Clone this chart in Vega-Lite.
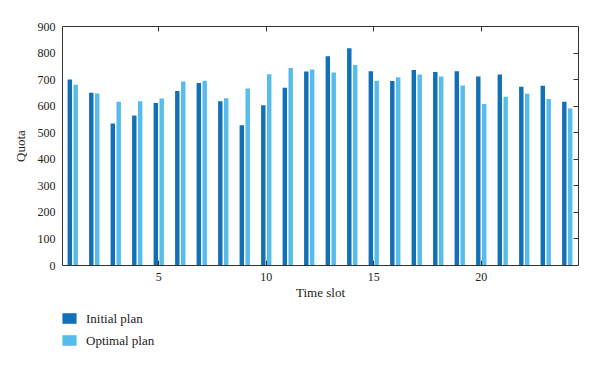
{
  "$schema": "https://vega.github.io/schema/vega-lite/v6.json",
  "width": 516,
  "height": 239,
  "autosize": {"type": "none"},
  "padding": {"left": 62, "top": 26, "right": 22, "bottom": 100},
  "background": "white",
  "config": {
    "font": "Liberation Serif",
    "view": {"stroke": "#333333", "strokeWidth": 1},
    "axis": {"labelFont": "Liberation Serif", "titleFont": "Liberation Serif", "labelColor": "#222222", "titleColor": "#222222", "titleFontWeight": "normal", "grid": false, "domain": false}
  },
  "data": {
    "values": [
      {"slot": 1, "plan": "Initial plan", "quota": 699}, {"slot": 1, "plan": "Optimal plan", "quota": 679},
      {"slot": 2, "plan": "Initial plan", "quota": 649}, {"slot": 2, "plan": "Optimal plan", "quota": 646},
      {"slot": 3, "plan": "Initial plan", "quota": 533}, {"slot": 3, "plan": "Optimal plan", "quota": 615},
      {"slot": 4, "plan": "Initial plan", "quota": 563}, {"slot": 4, "plan": "Optimal plan", "quota": 617},
      {"slot": 5, "plan": "Initial plan", "quota": 610}, {"slot": 5, "plan": "Optimal plan", "quota": 627},
      {"slot": 6, "plan": "Initial plan", "quota": 655}, {"slot": 6, "plan": "Optimal plan", "quota": 691},
      {"slot": 7, "plan": "Initial plan", "quota": 685}, {"slot": 7, "plan": "Optimal plan", "quota": 694},
      {"slot": 8, "plan": "Initial plan", "quota": 617}, {"slot": 8, "plan": "Optimal plan", "quota": 628},
      {"slot": 9, "plan": "Initial plan", "quota": 526}, {"slot": 9, "plan": "Optimal plan", "quota": 665},
      {"slot": 10, "plan": "Initial plan", "quota": 602}, {"slot": 10, "plan": "Optimal plan", "quota": 718},
      {"slot": 11, "plan": "Initial plan", "quota": 667}, {"slot": 11, "plan": "Optimal plan", "quota": 742},
      {"slot": 12, "plan": "Initial plan", "quota": 729}, {"slot": 12, "plan": "Optimal plan", "quota": 736},
      {"slot": 13, "plan": "Initial plan", "quota": 786}, {"slot": 13, "plan": "Optimal plan", "quota": 725},
      {"slot": 14, "plan": "Initial plan", "quota": 816}, {"slot": 14, "plan": "Optimal plan", "quota": 753},
      {"slot": 15, "plan": "Initial plan", "quota": 730}, {"slot": 15, "plan": "Optimal plan", "quota": 694},
      {"slot": 16, "plan": "Initial plan", "quota": 693}, {"slot": 16, "plan": "Optimal plan", "quota": 707},
      {"slot": 17, "plan": "Initial plan", "quota": 734}, {"slot": 17, "plan": "Optimal plan", "quota": 717},
      {"slot": 18, "plan": "Initial plan", "quota": 727}, {"slot": 18, "plan": "Optimal plan", "quota": 710},
      {"slot": 19, "plan": "Initial plan", "quota": 730}, {"slot": 19, "plan": "Optimal plan", "quota": 676},
      {"slot": 20, "plan": "Initial plan", "quota": 710}, {"slot": 20, "plan": "Optimal plan", "quota": 606},
      {"slot": 21, "plan": "Initial plan", "quota": 717}, {"slot": 21, "plan": "Optimal plan", "quota": 634},
      {"slot": 22, "plan": "Initial plan", "quota": 671}, {"slot": 22, "plan": "Optimal plan", "quota": 645},
      {"slot": 23, "plan": "Initial plan", "quota": 675}, {"slot": 23, "plan": "Optimal plan", "quota": 625},
      {"slot": 24, "plan": "Initial plan", "quota": 615}, {"slot": 24, "plan": "Optimal plan", "quota": 589}
    ]
  },
  "layer": [
    {
      "mark": {"type": "bar"},
      "encoding": {
        "x": {
          "field": "slot", "type": "ordinal",
          "scale": {"paddingInner": 0.52, "paddingOuter": 0.26},
          "axis": {"orient": "bottom", "values": [5, 10, 15, 20], "labelAngle": 0, "labelFontSize": 12, "tickSize": -5, "tickColor": "#333333", "labelPadding": 11, "title": "Time slot", "titleFontSize": 13, "titlePadding": 4}
        },
        "xOffset": {"field": "plan", "type": "nominal", "scale": {"paddingInner": 0.25, "paddingOuter": 0}},
        "y": {
          "field": "quota", "type": "quantitative",
          "scale": {"domain": [0, 900], "nice": false},
          "axis": {"orient": "left", "values": [0, 100, 200, 300, 400, 500, 600, 700, 800, 900], "ticks": false, "labelPadding": 7, "labelFontSize": 12, "title": "Quota", "titleFontSize": 13, "titlePadding": 10}
        },
        "color": {
          "field": "plan", "type": "nominal",
          "scale": {"domain": ["Initial plan", "Optimal plan"], "range": ["#1170b8", "#55bcec"]},
          "legend": {"orient": "none", "legendX": 0, "legendY": 285, "title": null, "symbolType": "M-1,-0.75H1V0.75H-1Z", "symbolSize": 200, "symbolStrokeWidth": 0, "labelFont": "Liberation Serif", "labelFontSize": 13, "labelColor": "#222222", "rowPadding": 7, "labelOffset": 9}
        }
      }
    },
    {
      "mark": {"type": "bar", "opacity": 0},
      "encoding": {
        "x": {
          "field": "slot", "type": "ordinal",
          "axis": {"orient": "top", "values": [5, 10, 15, 20], "labels": false, "tickSize": -5, "tickColor": "#333333", "title": null}
        },
        "xOffset": {"field": "plan", "type": "nominal"},
        "y": {
          "field": "quota", "type": "quantitative",
          "axis": {"orient": "right", "values": [100, 200, 300, 400, 500, 600, 700, 800], "labels": false, "tickSize": -5, "tickColor": "#333333", "title": null}
        },
        "color": {"field": "plan", "type": "nominal"}
      }
    }
  ],
  "resolve": {"axis": {"x": "independent", "y": "independent"}}
}
